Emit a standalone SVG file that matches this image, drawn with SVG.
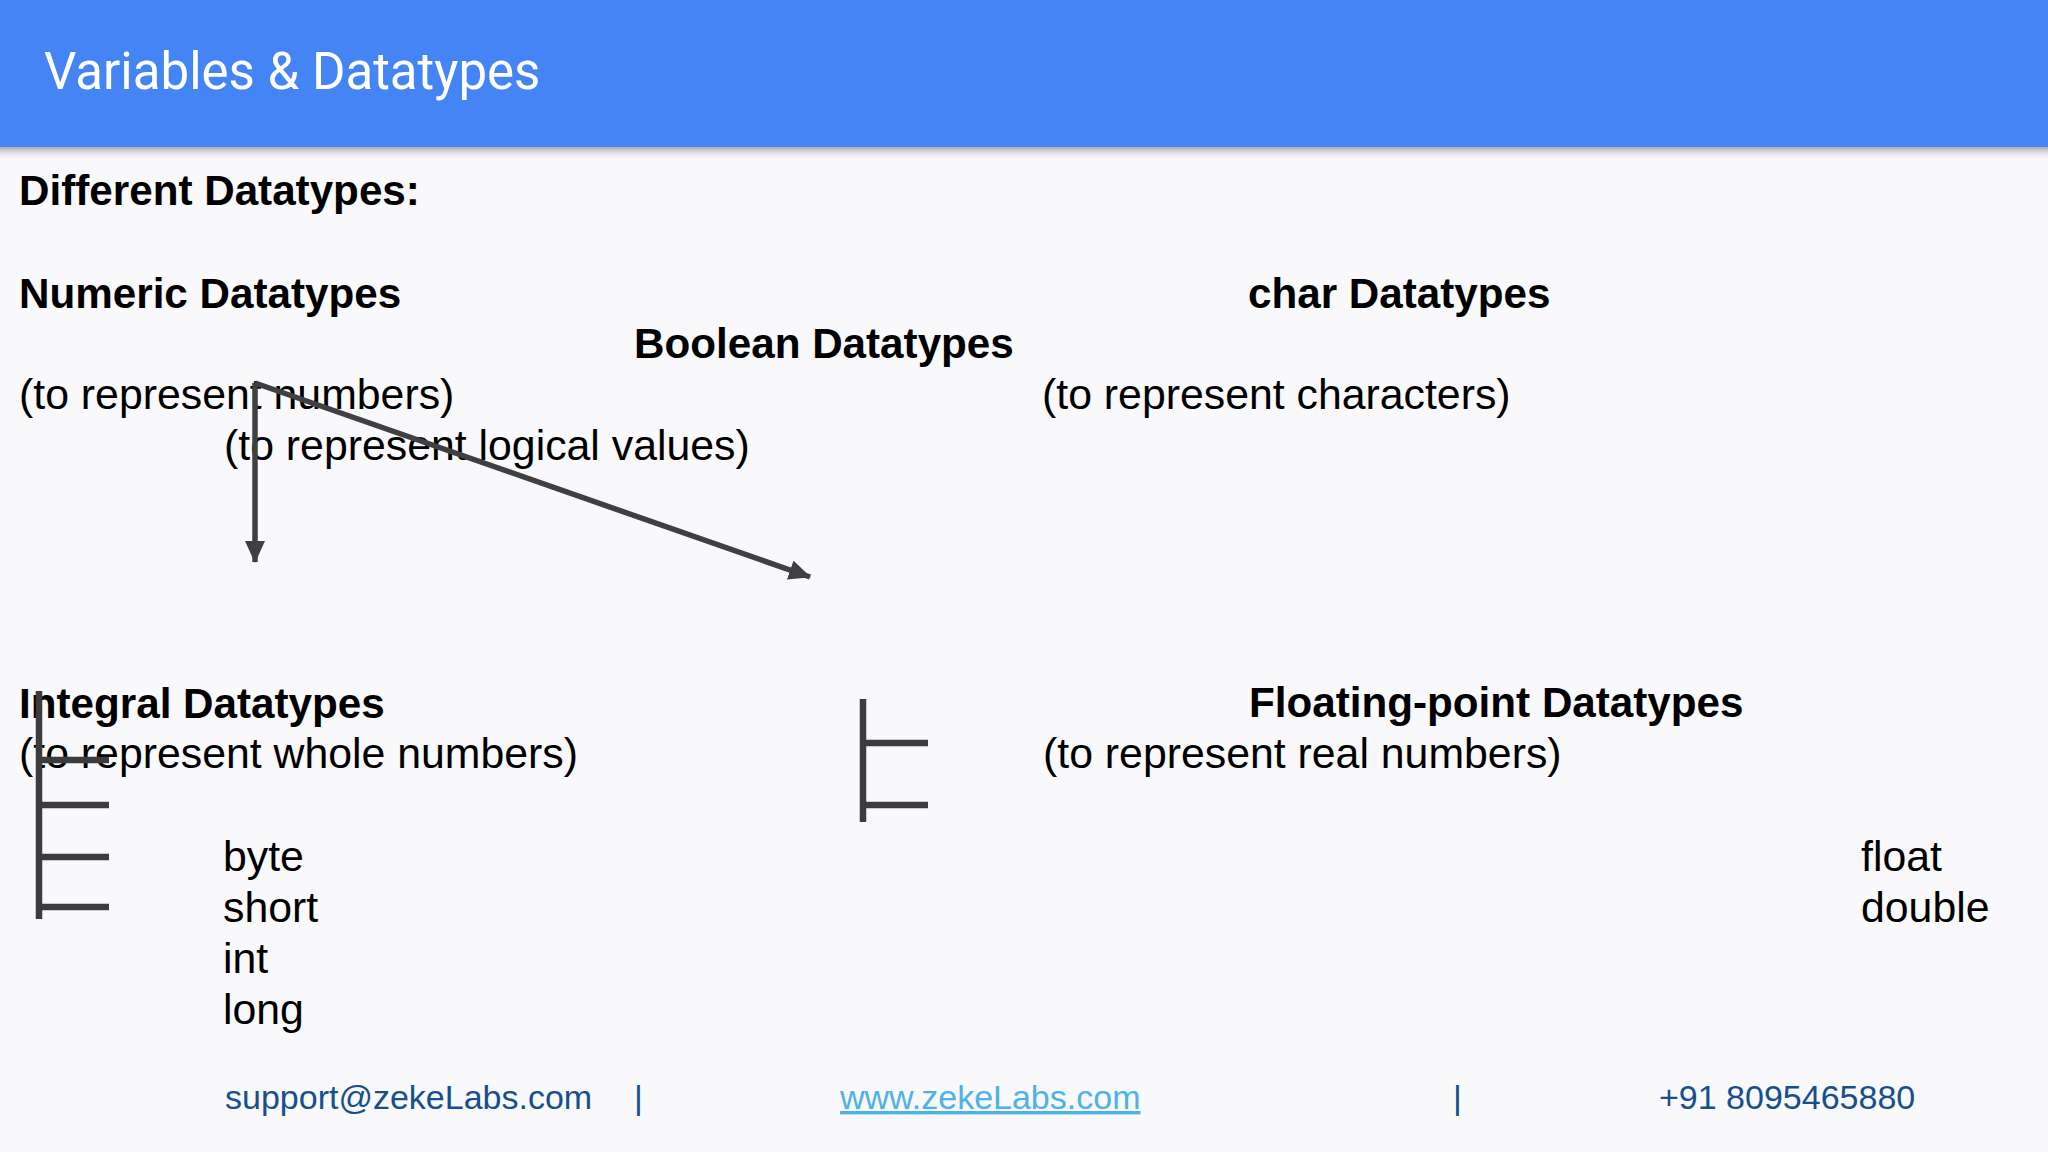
<svg xmlns="http://www.w3.org/2000/svg" width="2048" height="1152" viewBox="0 0 2048 1152">
  <defs>
    <linearGradient id="shadow" x1="0" y1="0" x2="0" y2="1">
      <stop offset="0" stop-color="#8a8a8a" stop-opacity="0.7"/>
      <stop offset="1" stop-color="#f9f8fb" stop-opacity="0"/>
    </linearGradient>
    <marker id="arrow" markerUnits="userSpaceOnUse" markerWidth="22" markerHeight="20" refX="21" refY="10" orient="auto">
      <path d="M0,0 L22,10 L0,20 Z" fill="#404042"/>
    </marker>
    <style>
      .bold { font-family: "Liberation Sans", Arial, sans-serif; font-weight: bold; font-size: 42.2px; fill: #000; }
      .reg { font-family: "Liberation Sans", Arial, sans-serif; font-size: 42.8px; fill: #000; }
      .foot { font-family: "Liberation Sans", Arial, sans-serif; font-size: 34px; fill: #174f8c; }
      .link { font-family: "Liberation Sans", Arial, sans-serif; font-size: 34px; fill: #4db3e6; text-decoration: underline; }
      .conn { stroke: #404042; stroke-width: 5.5; fill: none; }
      .brk { stroke: #3c3c3e; stroke-width: 6.5; fill: none; }
    </style>
  </defs>

  <rect x="0" y="0" width="2048" height="1152" fill="#f9f8fb"/>

  <g id="header">
    <rect x="0" y="147" width="2048" height="14" fill="url(#shadow)"/>
    <rect x="0" y="0" width="2048" height="147" fill="#4484f4"/>
    <text x="44" y="89" font-family="Roboto, 'Liberation Sans', sans-serif" font-weight="400" font-size="51" fill="#ffffff">Variables &amp; Datatypes</text>
  </g>

  <g id="title">
    <text class="bold" x="19" y="205">Different Datatypes:</text>
  </g>

  <g id="numeric">
    <text class="bold" x="19" y="308">Numeric Datatypes</text>
    <text class="reg" x="19" y="409">(to represent numbers)</text>
  </g>

  <g id="boolean">
    <text class="bold" x="634" y="358">Boolean Datatypes</text>
    <text class="reg" x="224" y="460">(to represent logical values)</text>
  </g>

  <g id="char">
    <text class="bold" x="1248" y="308">char Datatypes</text>
    <text class="reg" x="1042" y="409">(to represent characters)</text>
  </g>

  <g id="integral">
    <text class="bold" x="19" y="718">Integral Datatypes</text>
    <text class="reg" x="19" y="768">(to represent whole numbers)</text>
    <text class="reg" x="223" y="871">byte</text>
    <text class="reg" x="223" y="922">short</text>
    <text class="reg" x="223" y="973">int</text>
    <text class="reg" x="223" y="1024">long</text>
  </g>

  <g id="floating">
    <text class="bold" x="1249" y="717">Floating-point Datatypes</text>
    <text class="reg" x="1043" y="768">(to represent real numbers)</text>
    <text class="reg" x="1861" y="871">float</text>
    <text class="reg" x="1861" y="922">double</text>
  </g>

  <g id="connectors">
    <line class="conn" x1="255" y1="383" x2="255" y2="562" marker-end="url(#arrow)"/>
    <line class="conn" x1="255" y1="383" x2="810" y2="577" marker-end="url(#arrow)"/>
    <line class="brk" x1="39" y1="691" x2="39" y2="919"/>
    <line class="brk" x1="42" y1="760" x2="109" y2="760"/>
    <line class="brk" x1="42" y1="805" x2="109" y2="805"/>
    <line class="brk" x1="42" y1="857" x2="109" y2="857"/>
    <line class="brk" x1="42" y1="907" x2="109" y2="907"/>
    <line class="brk" x1="863" y1="699" x2="863" y2="822"/>
    <line class="brk" x1="863" y1="743" x2="928" y2="743"/>
    <line class="brk" x1="863" y1="805" x2="928" y2="805"/>
  </g>

  <g id="footer">
    <text class="foot" x="225" y="1109">support@zekeLabs.com</text>
    <text class="foot" x="634" y="1109">|</text>
    <text class="link" x="840" y="1109">www.zekeLabs.com</text>
    <text class="foot" x="1453" y="1109">|</text>
    <text class="foot" x="1659" y="1109">+91 8095465880</text>
  </g>
</svg>
